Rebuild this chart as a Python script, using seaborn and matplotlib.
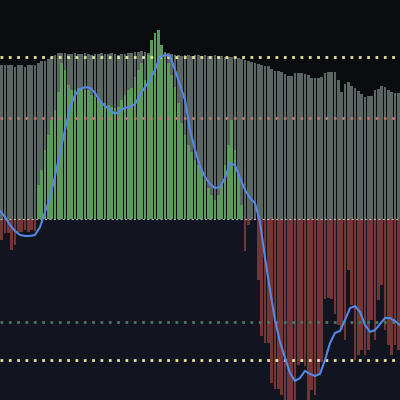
import numpy as np
import pandas as pd
import matplotlib
matplotlib.use("Agg")
import matplotlib.pyplot as plt
import seaborn as sns

# ---- data ----
gray_vals = [76, 76, 76,
             76, 75, 76, 76, 75, 76, 76, 76, 77,
             78, 78, 79, 80,
             81, 82, 82,
             82.2, 81.7, 81.7, 82.2, 81.7, 81.7, 82.2, 81.7, 81.2, 81.7, 81.7, 82.2, 81.7, 81.7, 82.2,
             81.7, 81.2, 81.7, 81.7, 82.2, 82.2,
             82.7, 82.7, 83.2, 82.7, 82.2, 82.7, 82.7, 82.7, 82.2, 82.7, 82.2, 81.7, 81.2,
             81.2, 80.7, 81.2, 81.2, 80.7, 81.2, 81.2, 80.7, 81.2, 80.7, 80.7, 81.2, 80.7, 80.7, 80.2, 80.2,
             80.2, 79.7, 79.7, 79.2, 78.7, 78.2, 77.7, 77.2,
             76.7, 76.2, 75.7,
             75.7, 74.3, 73.3, 73.3, 72.8, 71.8, 70.8, 70.8, 72.3, 72.3,
             72.3, 71.8, 71.3, 69.8, 69.8, 69.8, 70.3, 72.3, 72.8, 72.8,
             72.8, 68.8, 62.9, 66.8, 67.8, 65.8, 64.9, 63.4, 61.9, 60.4,
             60.9, 60.9, 63.9, 64.4, 65.8, 65.3, 63.9, 62.9, 62.4, 62.4]

green_vals = [0] * 11 + [
    16.8, 24.3, 34.2, 41.6, 49.0, 54.0, 62.9, 77.2, 73.8, 66.3,
    63.9, 63.9, 64.9, 64.9, 63.9, 63.9, 61.4, 60.4, 59.4, 57.4,
    57.4, 56.4, 55.4, 55.0, 55.4, 58.9, 61.4, 63.9, 64.9, 70.3,
    73.8, 77.2, 68.8, 81.2, 88.6, 92.1, 93.6, 86.1, 82.2, 77.2,
    71.3, 65.3, 57.4, 47.5, 41.6, 36.6, 33.2, 29.2, 26.7, 24.3,
    19.3, 15.3, 11.9, 9.4, 11.9, 16.8, 26.7, 36.6, 49.0, 34.2,
    21.8, 6.9] + [0] * 47

red_vals = [-10.4, -6.9, -6.9, -15.3, -12.9, -6.4, -6.4, -5.4, -6.4, -5.4, -5.9] + [0] * 62 + [
    -15.8, -3.0, 0, 0,
    -30.2, -57.9, -61.4, -61.4, -81.2, -84.2, -84.2, -87.1, -92, -92,
    -92, -92, -72.3, -70.8, -72.8, -92, -84.7, -87.1, -77.2, -70.8,
    -39.6, -39.1, -39.6, -47.0, -52.5, -55.0, -59.9, -25.2, -42.6, -69.8,
    -67.3, -64.9, -67.3, -64.9, -50.0, -59.9, -40.1, -32.7, -55.0, -62.4,
    -67.3, -62.4, -64.9]

line_vals = [4.0, 1.0, -3.0, -5.9, -7.9, -8.4, -8.4, -7.9, -4.0, 3.5,
             10.4, 21.3, 32.7, 44.1, 55.0, 61.4, 64.4, 65.3, 64.9, 62.4,
             58.4, 55.9, 54.0, 52.0, 53.5, 55.0, 55.4, 56.9, 61.4, 65.3,
             68.8, 73.8, 80.2, 81.2, 80.7, 73.8, 66.3, 58.9, 44.1, 34.2,
             26.2, 20.8, 17.3, 15.3, 15.8, 20.3, 27.7, 26.7, 20.3, 14.4,
             10.4, 7.9, -1.5, -19.3, -35.1, -50.0, -60.9, -68.8, -76.2, -80.2,
             -78.7, -75.2, -76.7, -77.7, -76.7, -69.8, -61.4, -56.4, -55.4, -50.0,
             -44.1, -43.1, -46.0, -52.5, -55.9, -55.0, -52.0, -49.0, -49.0, -50.5,
             -52.5]

levels = [80, 50, -51, -70]
level_colors = ["#e4e49c", "#b5766b", "#4c7563", "#e4e49c"]

# ---- build ----
n = len(gray_vals)
idx = np.arange(n)
df = pd.DataFrame({"i": idx, "gray": gray_vals, "green": green_vals, "red": red_vals})
line_df = pd.DataFrame({"x": np.linspace(-0.5, n - 0.5, len(line_vals)), "v": line_vals})

fig = plt.figure(figsize=(4, 4), dpi=100)
fig.patch.set_facecolor("#121520")
ax = fig.add_axes([0, 0, 1, 1])
ax.set_facecolor("#121520")
ax.axhspan(0, 200, color="#0b0c10", zorder=0, lw=0)

kw = dict(native_scale=True, width=0.72, saturation=1, errorbar=None, ax=ax, linewidth=0)
sns.barplot(data=df, x="i", y="gray", color="#5b6662", **kw)
sns.barplot(data=df, x="i", y="green", color="#5d9b5d", **kw)
sns.barplot(data=df, x="i", y="red", color="#733535", **kw)

for lv, c in zip(levels, level_colors):
    ax.axhline(lv, color=c, lw=2.0, ls=(0, (1, 2)), zorder=5)
ax.axhline(0, color="#d8d8d8", lw=0.8, ls=(0, (2, 2)), zorder=5, alpha=0.8)

sns.lineplot(data=line_df, x="x", y="v", color="#5588e6", lw=1.5, ax=ax, zorder=6)

ax.set_xlim(-0.5, n - 0.5)
ax.set_ylim(-181 / 2.02, 219 / 2.02)
ax.axis("off")
fig.savefig("out.png", dpi=100, facecolor=fig.get_facecolor())
